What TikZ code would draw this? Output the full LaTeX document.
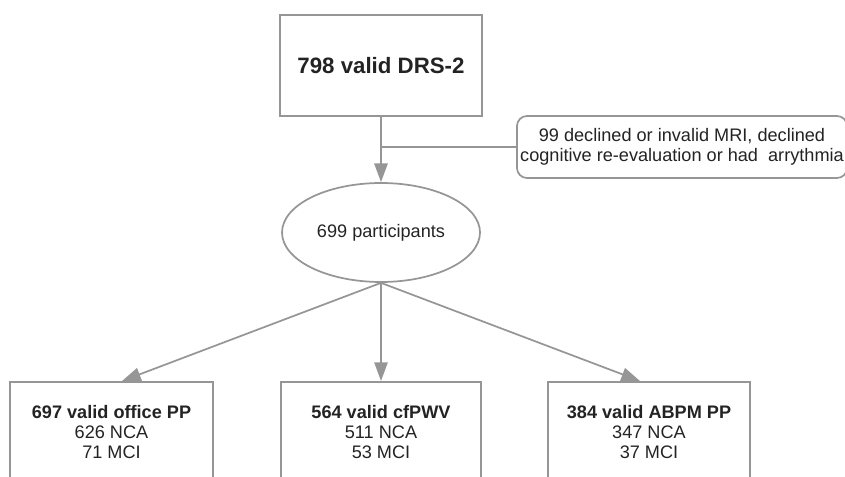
\documentclass[tikz,border=0pt]{standalone}
\usepackage{fontspec}
\setmainfont{Liberation Sans}
\usepackage{tikz}
\usetikzlibrary{arrows.meta,shapes.geometric,positioning}

\definecolor{linegray}{RGB}{150,150,150}
\definecolor{textgray}{RGB}{35,35,35}

\begin{document}
\begin{tikzpicture}[x=0.75pt,y=-0.75pt,
        box/.style={shape=rectangle, draw=linegray, line width=1.3pt},
        txt/.style={text=textgray, align=center, font=\fontsize{13.6}{15}\selectfont},
        conn/.style={draw=linegray, line width=1.3pt},
        arr/.style={conn, -{Triangle[length=14pt,width=10pt,fill=linegray]}}]
        \useasboundingbox (0,0) rectangle (845,477);
        \clip (0,0) rectangle (845,477);
        % top of the flow
        \node[box, txt, minimum width=151.5pt, minimum height=75.75pt, font=\fontsize{16.7}{18}\selectfont\bfseries] (drs) at (381,65.5) {798 valid DRS-2};
        \node[shape=ellipse, draw=linegray, line width=1.3pt, txt, minimum width=148.5pt, minimum height=74.25pt] (part) at (381,232.5) {699 participants};
        \node[box, txt, rounded corners=7.5pt, minimum width=247.5pt, minimum height=46.5pt, inner xsep=0pt] (excl) at (682,147) {99 declined or invalid MRI, declined\\cognitive re-evaluation or had\ \ arrythmia};
        \coordinate (split) at (381,147);
        % the three outcome boxes
        \node[box, anchor=north, minimum width=152pt, minimum height=100pt] (office) at (111.5,381) {};
        \node[box, anchor=north, minimum width=150pt, minimum height=100pt] (cfpwv) at (381,381) {};
        \node[box, anchor=north, minimum width=151.5pt, minimum height=100pt] (abpm) at (649,381) {};
        \node[txt, inner sep=0pt, below=18pt of office.north] (officetxt) {\textbf{697 valid office PP}\\626 NCA\\71 MCI};
        \node[txt, inner sep=0pt, below=18pt of cfpwv.north] (cfpwvtxt) {\textbf{564 valid cfPWV}\\511 NCA\\53 MCI};
        \node[txt, inner sep=0pt, below=18pt of abpm.north] (abpmtxt) {\textbf{384 valid ABPM PP}\\347 NCA\\37 MCI};
        \draw[arr] (drs) -- (part);
        \draw[conn] (split) -- (excl.west);
        \draw[arr] (part.south) -- ([xshift=7.9pt]office.north);
        \draw[arr] (part.south) -- (cfpwv.north);
        \draw[arr] (part.south) -- ([xshift=-6.75pt]abpm.north);
    \end{tikzpicture}
\end{document}
